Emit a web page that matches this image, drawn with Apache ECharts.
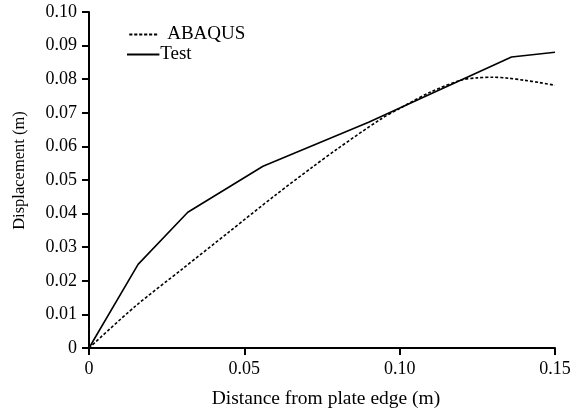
<!DOCTYPE html>
<html>
<head>
<meta charset="utf-8">
<script src="https://cdn.jsdelivr.net/npm/echarts@6/dist/echarts.min.js"></script>
<style>
  html, body { margin: 0; padding: 0; background: #fff; }
  #chart { width: 576px; height: 414px; }
</style>
</head>
<body>
<div id="chart"></div>
<script>
// Distance from plate edge (m) and displacement (m) for each curve
const abaqusX = [0, 0.015, 0.03, 0.045, 0.06, 0.0717, 0.08, 0.0937, 0.10, 0.11, 0.12, 0.125, 0.13, 0.135, 0.14, 0.145, 0.15];
const abaqusY = [0, 0.0125, 0.0235, 0.0345, 0.0455, 0.0537, 0.0593, 0.068, 0.0713, 0.0762, 0.0798, 0.0804, 0.0806, 0.0803, 0.0797, 0.079, 0.0782];
const testX = [0, 0.0158, 0.0318, 0.056, 0.09, 0.136, 0.15];
const testY = [0, 0.0249, 0.0404, 0.0541, 0.0672, 0.0866, 0.088];

const xTicks = { 0: '0', 0.05: '0.05', 0.1: '0.10', 0.15: '0.15' };
const yTickFmt = v => (v === 0 ? '0' : v.toFixed(2));

const pairs = (xs, ys) => xs.map((x, i) => [x, ys[i]]);
const font = '"Liberation Serif", "Times New Roman", serif';

// legend keys: a short dashed stroke and a solid stroke
const dashIcon = 'path://M0 0h3.5v2h-3.5z M5.5 0h3.5v2h-3.5z M11 0h3.5v2h-3.5z M16.5 0h3.5v2h-3.5z M22 0h3.5v2h-3.5z M27.5 0h3.5v2h-3.5z';
const solidIcon = 'path://M0 0h36v2h-36z';

const chart = echarts.init(document.getElementById('chart'));
chart.setOption({
  animation: false,
  textStyle: { fontFamily: font, color: '#000' },
  grid: { left: 89, right: 21, top: 12, bottom: 64, containLabel: false },
  legend: {
    orient: 'vertical',
    left: 122,
    top: 20,
    itemWidth: 36,
    itemHeight: 1.8,
    itemGap: 1,
    textStyle: { fontFamily: font, fontSize: 19, lineHeight: 19, color: '#000' },
    data: [
      { name: 'ABAQUS', icon: dashIcon, itemStyle: { color: '#000' },
        textStyle: { padding: [0, 0, 0, 1] } },
      { name: 'Test', icon: solidIcon, itemStyle: { color: '#000' },
        textStyle: { padding: [0, 0, 0, -6] } }
    ]
  },
  xAxis: {
    type: 'value',
    min: 0, max: 0.15, interval: 0.05,
    name: 'Distance from plate edge (m)',
    nameLocation: 'middle',
    nameGap: 41,
    nameTextStyle: { fontFamily: font, fontSize: 19.5, color: '#000', padding: [0, 0, 0, 8] },
    axisLine: { lineStyle: { color: '#000', width: 2 } },
    axisTick: { show: true, length: 7, lineStyle: { color: '#000', width: 2 } },
    axisLabel: { fontFamily: font, fontSize: 18, color: '#000', margin: 12,
      formatter: v => xTicks[Math.round(v * 100) / 100] ?? '' },
    splitLine: { show: false }
  },
  yAxis: {
    type: 'value',
    min: 0, max: 0.1, interval: 0.01,
    name: 'Displacement (m)',
    nameLocation: 'middle',
    nameGap: 61,
    nameTextStyle: { fontFamily: font, fontSize: 16.5, color: '#000', padding: [0, 0, 0, 19] },
    axisLine: { show: true, lineStyle: { color: '#000', width: 2 } },
    axisTick: { show: true, length: 7, lineStyle: { color: '#000', width: 2 } },
    axisLabel: { fontFamily: font, fontSize: 18, color: '#000', margin: 12, formatter: yTickFmt },
    splitLine: { show: false }
  },
  series: [
    {
      name: 'ABAQUS',
      type: 'line',
      data: pairs(abaqusX, abaqusY),
      smooth: 0.3,
      symbol: 'none',
      lineStyle: { color: '#000', width: 1.6, type: [3, 2] },
      itemStyle: { color: '#000' }
    },
    {
      name: 'Test',
      type: 'line',
      data: pairs(testX, testY),
      symbol: 'none',
      lineStyle: { color: '#000', width: 1.6, type: 'solid' },
      itemStyle: { color: '#000' }
    }
  ]
});
</script>
</body>
</html>
